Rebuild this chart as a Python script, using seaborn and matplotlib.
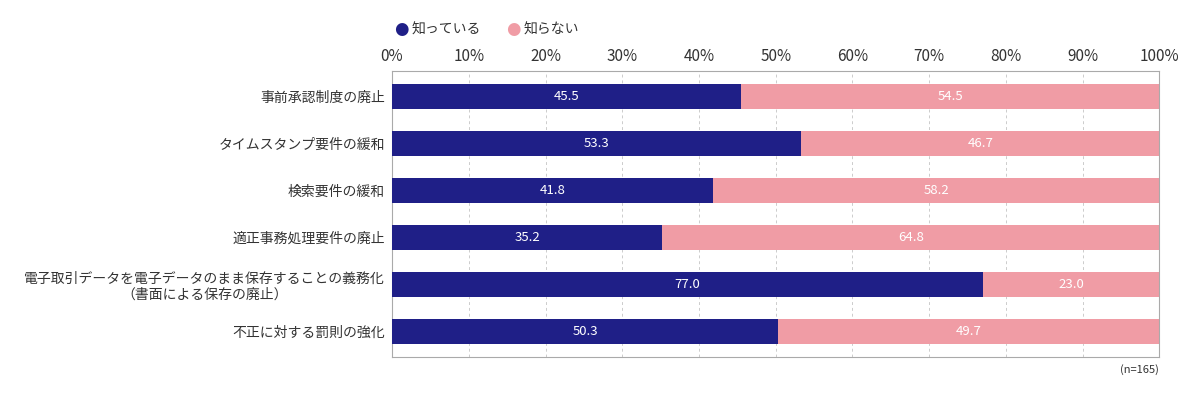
import matplotlib
matplotlib.use("Agg")
import matplotlib.pyplot as plt
import seaborn as sns
import pandas as pd

categories = [
    "事前承認制度の廃止",
    "タイムスタンプ要件の緩和",
    "検索要件の緩和",
    "適正事務処理要件の廃止",
    "電子取引データを電子データのまま保存することの義務化\n（書面による保存の廃止）",
    "不正に対する罰則の強化",
]
know = [45.5, 53.3, 41.8, 35.2, 77.0, 50.3]
not_know = [54.5, 46.7, 58.2, 64.8, 23.0, 49.7]
series_names = ["知っている", "知らない"]
tick_labels = ["0%", "10%", "20%", "30%", "40%", "50%", "60%", "70%", "80%", "90%", "100%"]
note = "(n=165)"

NAVY = "#1f1f87"
PINK = "#f09ca5"

sns.set_theme(style="white")
plt.rcParams["font.family"] = ["Noto Sans CJK JP", "DejaVu Sans"]

df = pd.DataFrame({"cat": categories, "know": know, "not_know": not_know})
df["total"] = df["know"] + df["not_know"]

fig = plt.figure(figsize=(12, 4), dpi=100)
ax = fig.add_axes([0.3267, 0.1075, 0.6395, 0.715])

sns.barplot(data=df, y="cat", x="total", color=PINK, orient="h", width=0.54,
            ax=ax, saturation=1, zorder=2, linewidth=0)
sns.barplot(data=df, y="cat", x="know", color=NAVY, orient="h", width=0.54,
            ax=ax, saturation=1, zorder=3, linewidth=0)

for i, (k, n) in enumerate(zip(know, not_know)):
    ax.text(k / 2, i, f"{k:.1f}", ha="center", va="center", color="white",
            fontsize=9.5, zorder=4)
    ax.text(k + n / 2, i, f"{n:.1f}", ha="center", va="center", color="white",
            fontsize=9.5, zorder=4)

ax.set_xlim(0, 100)
ax.set_ylim(5.55, -0.55)
ax.set_xticks(range(0, 101, 10))
ax.set_xticklabels(tick_labels, fontsize=11, color="#333333")
ax.xaxis.tick_top()
ax.tick_params(axis="x", length=0, pad=4)
ax.tick_params(axis="y", length=0, pad=5, labelsize=10, labelcolor="#333333")
for lab in ax.get_yticklabels():
    lab.set_multialignment("center")
ax.set_xlabel("")
ax.set_ylabel("")
ax.grid(axis="x", linestyle=(0, (3, 3)), color="#cccccc", linewidth=0.7, zorder=0)
ax.set_axisbelow(True)
for s in ax.spines.values():
    s.set_color("#aaaaaa")
    s.set_linewidth(0.8)
    s.set_visible(True)

# legend
fig.text(0.3283, 0.927, "●", color=NAVY, fontsize=12, va="center", ha="left",
         family=["DejaVu Sans"])
fig.text(0.3433, 0.927, series_names[0], color="#333333", fontsize=10, va="center")
fig.text(0.4217, 0.927, "●", color=PINK, fontsize=12, va="center", ha="left",
         family=["DejaVu Sans"])
fig.text(0.4367, 0.927, series_names[1], color="#333333", fontsize=10, va="center")

fig.text(0.966, 0.075, note, ha="right", va="center", fontsize=8, color="#333333")

fig.savefig("out.png", dpi=100, facecolor="white")
